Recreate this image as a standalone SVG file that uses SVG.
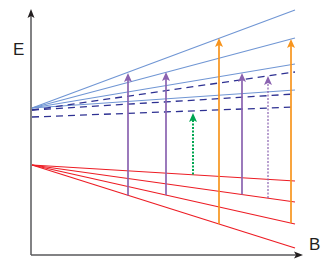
<svg xmlns="http://www.w3.org/2000/svg" width="332" height="262" viewBox="0 0 332 262">
<style>
.ax{stroke:#58595b;stroke-width:1.5;fill:none}
.bl{stroke:#7096d4;stroke-width:1.2;fill:none}
.dn{stroke:#2e3192;stroke-width:1.3;fill:none;stroke-dasharray:7 5}
.rd{stroke:#ed1c24;stroke-width:1.2;fill:none}
.pu{stroke:#8a62b0;stroke-width:1.7;fill:none}
.pd{stroke:#8a62b0;stroke-width:1.2;fill:none;stroke-dasharray:2 1.5}
.or{stroke:#f7941d;stroke-width:1.7;fill:none}
.gr{stroke:#00a651;stroke-width:2;fill:none;stroke-dasharray:2 1.5}
.lbl{font-family:"Liberation Sans",Arial,sans-serif;font-size:17px;fill:#231f20}
</style>
<defs>
<marker id="mAx" markerUnits="userSpaceOnUse" markerWidth="10" markerHeight="8" refX="2" refY="4" orient="auto"><path d="M0,0.5 L9,4 L0,7.5 L2,4 z" fill="#231f20"/></marker>
<marker id="mPu" markerUnits="userSpaceOnUse" markerWidth="10" markerHeight="9" refX="2" refY="4.5" orient="auto"><path d="M0,0.5 L9,4.5 L0,8.5 L2,4.5 z" fill="#8a62b0"/></marker>
<marker id="mOr" markerUnits="userSpaceOnUse" markerWidth="10" markerHeight="9" refX="2" refY="4.5" orient="auto"><path d="M0,0.5 L9,4.5 L0,8.5 L2,4.5 z" fill="#f7941d"/></marker>
<marker id="mGr" markerUnits="userSpaceOnUse" markerWidth="10" markerHeight="9" refX="2" refY="4.5" orient="auto"><path d="M0,0.5 L9,4.5 L0,8.5 L2,4.5 z" fill="#00a651"/></marker>
</defs>
<g id="axes">
<line class="ax" x1="31" y1="255" x2="31" y2="16" marker-end="url(#mAx)"/>
<line class="ax" x1="31" y1="255" x2="296" y2="255" marker-end="url(#mAx)"/>
<text class="lbl" x="13" y="55">E</text>
<text class="lbl" x="309" y="250">B</text>
</g>
<g id="upper-levels">
<line class="bl" x1="32" y1="108" x2="295" y2="10"/>
<line class="bl" x1="32" y1="108" x2="295" y2="38"/>
<line class="bl" x1="32" y1="108" x2="295" y2="64"/>
<line class="bl" x1="32" y1="108" x2="295" y2="90"/>
<line class="dn" x1="32" y1="110" x2="295" y2="72"/>
<line class="dn" x1="32" y1="110" x2="295" y2="94"/>
<line class="dn" x1="32" y1="117" x2="295" y2="107"/>
</g>
<g id="lower-levels">
<line class="rd" x1="32" y1="165" x2="295" y2="181"/>
<line class="rd" x1="32" y1="165" x2="295" y2="202"/>
<line class="rd" x1="32" y1="165" x2="295" y2="224"/>
<line class="rd" x1="32" y1="165" x2="295" y2="248"/>
</g>
<g id="connectors">
<line class="pu" x1="128" y1="195.5" x2="128" y2="80" marker-end="url(#mPu)"/>
<line class="pu" x1="166" y1="195" x2="166" y2="79" marker-end="url(#mPu)"/>
<line class="gr" x1="193" y1="174.5" x2="193" y2="120" marker-end="url(#mGr)"/>
<line class="or" x1="219" y1="224" x2="219" y2="45" marker-end="url(#mOr)"/>
<line class="pu" x1="242" y1="194.5" x2="242" y2="80" marker-end="url(#mPu)"/>
<line class="pd" x1="268" y1="198" x2="268" y2="83" marker-end="url(#mPu)"/>
<line class="or" x1="291" y1="223" x2="291" y2="46" marker-end="url(#mOr)"/>
</g>
</svg>
